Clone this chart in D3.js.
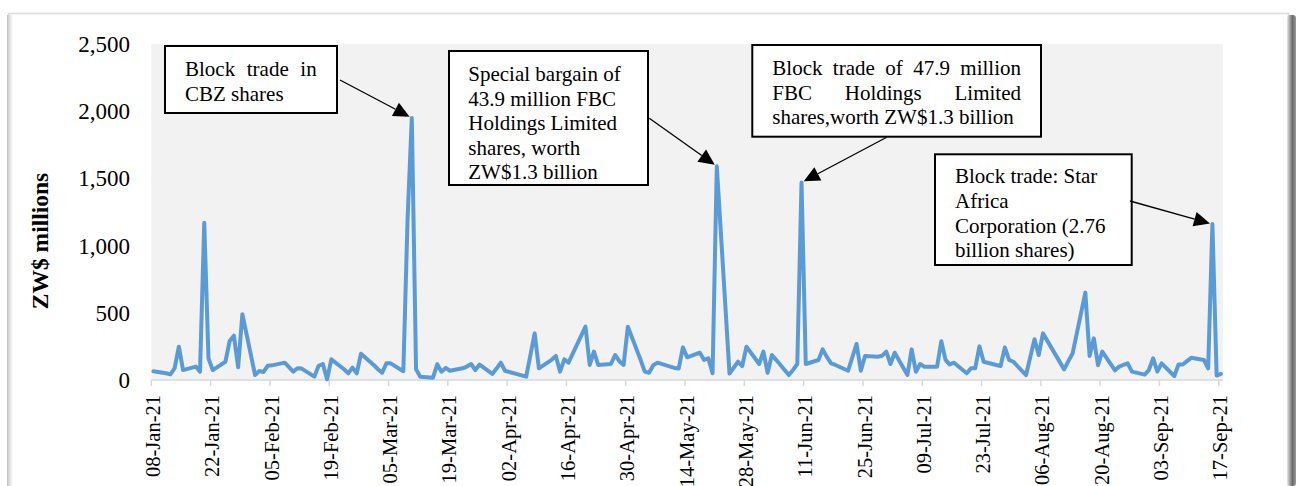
<!DOCTYPE html>
<html><head><meta charset="utf-8">
<script src="https://cdn.jsdelivr.net/npm/d3@7"></script>
<style>
body{margin:0;background:#fff}
svg{display:block}
text{font-family:"Liberation Serif","Times New Roman",serif;fill:#000}
</style>
</head><body>
<svg id="chart" width="1299" height="486"></svg>
<script>
// ---- data ----
const tradeDates = [
 "2021-01-08","2021-01-11","2021-01-12","2021-01-13","2021-01-14","2021-01-15","2021-01-18","2021-01-19","2021-01-20","2021-01-21","2021-01-22",
 "2021-01-25","2021-01-26","2021-01-27","2021-01-28","2021-01-29",
 "2021-02-01","2021-02-02","2021-02-03","2021-02-04","2021-02-05","2021-02-08","2021-02-09","2021-02-10","2021-02-11","2021-02-12",
 "2021-02-15","2021-02-16","2021-02-17","2021-02-18","2021-02-19","2021-02-22","2021-02-23","2021-02-24","2021-02-25","2021-02-26",
 "2021-03-01","2021-03-02","2021-03-03","2021-03-04","2021-03-05","2021-03-08","2021-03-09","2021-03-10","2021-03-11","2021-03-12",
 "2021-03-15","2021-03-16","2021-03-17","2021-03-18","2021-03-19","2021-03-22","2021-03-23","2021-03-24","2021-03-25","2021-03-26",
 "2021-03-29","2021-03-30","2021-03-31","2021-04-01","2021-04-06","2021-04-07","2021-04-08","2021-04-09",
 "2021-04-12","2021-04-13","2021-04-14","2021-04-15","2021-04-16","2021-04-20","2021-04-21","2021-04-22","2021-04-23",
 "2021-04-26","2021-04-27","2021-04-28","2021-04-29","2021-04-30","2021-05-03","2021-05-04","2021-05-05","2021-05-06","2021-05-07",
 "2021-05-10","2021-05-11","2021-05-12","2021-05-13","2021-05-14","2021-05-17","2021-05-18","2021-05-19","2021-05-20","2021-05-21",
 "2021-05-24","2021-05-26","2021-05-27","2021-05-28","2021-05-31","2021-06-01","2021-06-02","2021-06-03","2021-06-04",
 "2021-06-07","2021-06-08","2021-06-09","2021-06-10","2021-06-11","2021-06-14","2021-06-15","2021-06-16","2021-06-17","2021-06-18",
 "2021-06-21","2021-06-22","2021-06-23","2021-06-24","2021-06-25","2021-06-28","2021-06-29","2021-06-30","2021-07-01","2021-07-02",
 "2021-07-05","2021-07-06","2021-07-07","2021-07-08","2021-07-09","2021-07-12","2021-07-13","2021-07-14","2021-07-15","2021-07-16",
 "2021-07-19","2021-07-20","2021-07-21","2021-07-22","2021-07-23","2021-07-26","2021-07-27","2021-07-28","2021-07-29","2021-07-30",
 "2021-08-02","2021-08-03","2021-08-04","2021-08-05","2021-08-06","2021-08-11","2021-08-12","2021-08-13",
 "2021-08-16","2021-08-17","2021-08-18","2021-08-19","2021-08-20","2021-08-23","2021-08-24","2021-08-25","2021-08-26","2021-08-27",
 "2021-08-30","2021-08-31","2021-09-01","2021-09-02","2021-09-03","2021-09-06","2021-09-07","2021-09-08","2021-09-09","2021-09-10",
 "2021-09-13","2021-09-14","2021-09-15","2021-09-16","2021-09-17"
];
const turnover = [
 65,50,42,87,248,74,100,62,1170,161,74,
 136,290,330,95,490,
 37,67,60,106,109,129,95,62,87,85,
 25,106,119,5,154,80,50,92,50,195,
 112,80,54,124,124,65,1200,1950,80,25,
 17,117,62,90,69,87,100,119,74,115,
 45,85,129,69,25,185,347,87,
 150,179,62,154,129,397,112,211,112,
 119,186,140,112,397,150,62,54,110,129,
 100,90,85,243,169,203,149,161,50,1590,
 48,136,104,248,119,211,54,186,150,
 37,75,119,1470,119,149,228,170,124,112,
 69,170,268,69,179,173,180,211,119,203,
 37,228,62,119,99,99,288,150,115,129,
 50,87,87,250,136,112,104,243,150,136,
 37,170,303,186,347,79,140,198,
 650,179,310,110,211,72,100,112,124,62,
 40,74,161,62,124,30,115,115,140,165,
 149,87,1160,33,45
];
const yTickValues = [0, 500, 1000, 1500, 2000, 2500];
const axisStart = "2021-01-08";
const axisEnd = "2021-09-18";
const tickStepDays = 14;
const yTitle = "ZW$ millions";

const noteTexts = [
 ["Block trade in", "CBZ shares"],
 ["Special bargain of", "43.9 million FBC", "Holdings Limited", "shares, worth", "ZW$1.3 billion"],
 ["Block trade of 47.9 million", "FBC Holdings Limited", "shares,worth ZW$1.3 billion"],
 ["Block trade: Star", "Africa", "Corporation (2.76", "billion shares)"]
];
const noteTargets = ["2021-03-10", "2021-05-21", "2021-06-10", "2021-09-15"];

// ---- layout ----
const W = 1299, H = 486;
const plot = {left: 151.3, right: 1223, top: 44, bottom: 380};
const noteLayout = [
 {box:[165,46,172,67], tx:185, tr:316.7, base:76, justify:[true,false], from:[340,80]},
 {box:[449,51,199,134], tx:468.3, tr:640, base:81, justify:[false,false,false,false,false], from:[649.3,118.3]},
 {box:[752.3,45,288.7,91.7], tx:772.3, tr:1021, base:75, justify:[true,true,false], from:[886.7,137.3]},
 {box:[935,154.3,196.7,110.7], tx:955, tr:1120, base:183.3, justify:[false,false,false,false], from:[1130,201]}
];
const lineH = 24.6;

const parse = d3.timeParse("%Y-%m-%d");
const data = tradeDates.map((d,i)=>({date: parse(d), value: turnover[i]}));
const start = parse(axisStart), end = parse(axisEnd);

const svg = d3.select("#chart");
const defs = svg.append("defs");
const gR = defs.append("linearGradient").attr("id","shR").attr("x1","0").attr("x2","1");
gR.append("stop").attr("offset","0").attr("stop-color","#e6e6e6");
gR.append("stop").attr("offset","0.6").attr("stop-color","#6a6a6a");
gR.append("stop").attr("offset","1").attr("stop-color","#9a9a9a");
const gL = defs.append("linearGradient").attr("id","shL").attr("x1","0").attr("x2","1");
gL.append("stop").attr("offset","0").attr("stop-color","#c4c4c4");
gL.append("stop").attr("offset","1").attr("stop-color","#ffffff");

// frame
svg.append("rect").attr("x",8.5).attr("y",13.5).attr("width",1280).attr("height",480)
  .attr("fill","#fff").attr("stroke","#dadada").attr("stroke-width",1.5);
svg.append("rect").attr("x",7).attr("y",15).attr("width",6).attr("height",471).attr("fill","url(#shL)");
svg.append("rect").attr("x",1287).attr("y",15).attr("width",9).attr("height",471).attr("rx",3).attr("fill","url(#shR)");

const x = d3.scaleTime().domain([start, end]).range([plot.left, plot.right]);
const y = d3.scaleLinear().domain([0, 2500]).range([plot.bottom, plot.top]);
const px = d => x(d3.timeHour.offset(d, 12));

svg.append("rect").attr("x",plot.left).attr("y",plot.top)
  .attr("width",plot.right-plot.left).attr("height",plot.bottom-plot.top).attr("fill","#f2f2f2");

// x axis
const ticks = d3.range(0, 253, tickStepDays).map(i => d3.timeDay.offset(start, i));
const fmt = d3.timeFormat("%d-%b-%y");
svg.append("line").attr("x1",plot.left).attr("x2",plot.right).attr("y1",plot.bottom).attr("y2",plot.bottom)
  .attr("stroke","#d9d9d9").attr("stroke-width",1.5);
const xg = svg.append("g");
xg.selectAll("line").data(ticks).join("line")
  .attr("x1",d=>x(d)).attr("x2",d=>x(d)).attr("y1",plot.bottom).attr("y2",plot.bottom+6)
  .attr("stroke","#d9d9d9").attr("stroke-width",1.5);
xg.selectAll("text").data(ticks).join("text")
  .attr("transform",d=>`translate(${x(d)},395) rotate(-90)`)
  .attr("text-anchor","end").attr("dy","0.42em")
  .style("font-size","20.5px").text(d=>fmt(d));

// y axis labels
svg.append("g").selectAll("text").data(yTickValues).join("text")
  .attr("x",130).attr("y",d=>y(d)).attr("dy","0.35em").attr("text-anchor","end")
  .style("font-size","23px").text(d3.format(","));
svg.append("text").attr("transform","translate(40,241) rotate(-90)")
  .attr("text-anchor","middle").attr("dy","0.35em")
  .style("font-size","23.5px").style("font-weight","bold").text(yTitle);

// line
svg.append("path").datum(data)
  .attr("d", d3.line().x(d=>px(d.date)).y(d=>y(d.value)))
  .attr("fill","none").attr("stroke","#5b9bd5").attr("stroke-width",4)
  .attr("stroke-linejoin","round").attr("stroke-linecap","round");

// annotations
noteTexts.forEach((lines, k) => {
  const L = noteLayout[k];
  const g = svg.append("g");
  g.append("rect").attr("x",L.box[0]).attr("y",L.box[1]).attr("width",L.box[2]).attr("height",L.box[3])
    .attr("fill","#fff").attr("stroke","#000").attr("stroke-width",2);
  lines.forEach((ln, j) => {
    const by = L.base + j*lineH;
    if (L.justify[j]) {
      const words = ln.split(" ");
      const nodes = words.map(w => g.append("text").attr("y",by).style("font-size","21px").text(w));
      const widths = nodes.map(n => n.node().getComputedTextLength());
      const total = d3.sum(widths);
      const gap = (L.tr - L.tx - total) / (words.length - 1);
      let cx = L.tx;
      nodes.forEach((n,i) => { n.attr("x",cx); cx += widths[i] + gap; });
    } else {
      g.append("text").attr("x",L.tx).attr("y",by).style("font-size","21px").text(ln);
    }
  });
  // arrow
  const t = data.find(d => +d.date === +parse(noteTargets[k]));
  const P = [px(t.date), y(t.value)];
  const S = L.from;
  const dx = P[0]-S[0], dy = P[1]-S[1], len = Math.hypot(dx,dy);
  const u = [dx/len, dy/len], n = [-u[1], u[0]];
  const T = [P[0]-u[0]*2.5, P[1]-u[1]*2.5];
  const hl = 16, hw = 7.5;
  const B = [T[0]-u[0]*hl, T[1]-u[1]*hl];
  g.append("line").attr("x1",S[0]).attr("y1",S[1]).attr("x2",B[0]).attr("y2",B[1])
    .attr("stroke","#000").attr("stroke-width",1.3);
  g.append("polygon").attr("points",[T,[B[0]+n[0]*hw,B[1]+n[1]*hw],[B[0]-n[0]*hw,B[1]-n[1]*hw]].map(p=>p.join(",")).join(" "))
    .attr("fill","#000");
});
</script>
</body></html>
